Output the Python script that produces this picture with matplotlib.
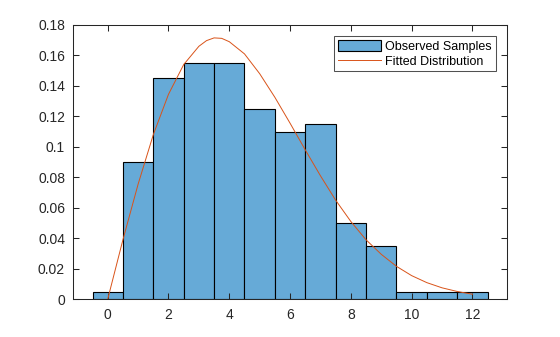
import numpy as np
import matplotlib
matplotlib.use('Agg')
import matplotlib.pyplot as plt
from matplotlib.ticker import FuncFormatter

plt.rcParams['font.family'] = ['Liberation Sans', 'DejaVu Sans']

# histogram (normalized probability), bin centers 0..12
bin_centers = [0, 1, 2, 3, 4, 5, 6, 7, 8, 9, 10, 11, 12]
bin_probs = [0.005, 0.09, 0.145, 0.155, 0.155, 0.125, 0.11, 0.115, 0.05, 0.035, 0.005, 0.005, 0.005]

# fitted curve
fit_x = [0, 0.5, 1, 1.5, 2, 2.5, 3, 3.25, 3.5, 3.75, 4, 4.5, 5, 5.5, 6, 6.5, 7, 7.5,
         8, 8.5, 9, 9.5, 10, 10.5, 11, 11.5, 12]
fit_y = [0, 0.039, 0.0755, 0.108, 0.1345, 0.154, 0.166, 0.1697, 0.1715, 0.1712,
         0.169, 0.161, 0.148, 0.1325, 0.1155, 0.098, 0.081, 0.065, 0.051, 0.039,
         0.0295, 0.0216, 0.0155, 0.0109, 0.0075, 0.0051, 0.0033]

bar_color = '#66AAD7'
line_color = '#D95319'
ink = '#262626'

fig = plt.figure(figsize=(5.6, 3.37), dpi=100)
ax = fig.add_axes([0.131, 0.112, 0.774, 0.814])

bars = ax.bar(bin_centers, bin_probs, width=1.0, color=bar_color, edgecolor='black',
              linewidth=0.8, label='Observed Samples')
line, = ax.plot(fit_x, fit_y, color=line_color, linewidth=0.7, label='Fitted Distribution')

ax.set_xlim(-1.13, 13.13)
ax.set_ylim(0, 0.18)
ax.set_xticks([0, 2, 4, 6, 8, 10, 12])
ax.set_yticks(np.arange(0, 0.181, 0.02))
ax.yaxis.set_major_formatter(FuncFormatter(lambda v, p: '%g' % round(v, 2)))

ax.tick_params(direction='in', length=4, width=0.75, colors=ink, labelsize=10,
               top=True, right=True, pad=6)
for s in ax.spines.values():
    s.set_linewidth(0.75)
    s.set_color(ink)

leg = ax.legend([bars, line], ['Observed Samples', 'Fitted Distribution'],
                loc='upper right', fontsize=9, frameon=True, fancybox=False,
                edgecolor=ink, borderaxespad=0.9, handlelength=3.5,
                handleheight=1.0, borderpad=0.3, labelspacing=0.15,
                handletextpad=0.3)
leg.get_frame().set_linewidth(0.75)

fig.savefig('out.png', dpi=100)
